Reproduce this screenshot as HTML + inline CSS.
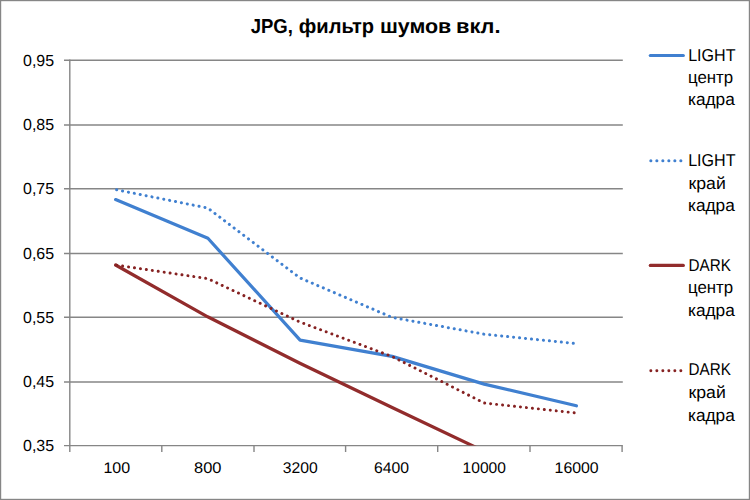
<!DOCTYPE html>
<html><head><meta charset="utf-8">
<style>
html,body{margin:0;padding:0;background:#fff;}
body{width:750px;height:500px;overflow:hidden;position:relative;}
svg{position:absolute;left:0;top:0;display:block;}
text{font-family:"Liberation Sans",sans-serif;fill:#000;text-rendering:geometricPrecision;}
</style></head><body>
<svg width="750" height="500" viewBox="0 0 750 500">
<rect x="0" y="0" width="750" height="500" fill="#fff"/>
<rect x="0.6" y="0.6" width="748.8" height="498.8" fill="none" stroke="#868686" stroke-width="1.2"/>
<g stroke="#868686" stroke-width="1.4" fill="none">
<line x1="64" y1="60.3" x2="622.8" y2="60.3"/>
<line x1="64" y1="125.0" x2="622.8" y2="125.0"/>
<line x1="64" y1="188.7" x2="622.8" y2="188.7"/>
<line x1="64" y1="253.5" x2="622.8" y2="253.5"/>
<line x1="64" y1="317.3" x2="622.8" y2="317.3"/>
<line x1="64" y1="382.0" x2="622.8" y2="382.0"/>
<line x1="64" y1="445.6" x2="622.8" y2="445.6"/>
<line x1="69.8" y1="59.6" x2="69.8" y2="452"/>
<line x1="161.8" y1="445.6" x2="161.8" y2="452"/>
<line x1="254.0" y1="445.6" x2="254.0" y2="452"/>
<line x1="345.6" y1="445.6" x2="345.6" y2="452"/>
<line x1="437.7" y1="445.6" x2="437.7" y2="452"/>
<line x1="530.0" y1="445.6" x2="530.0" y2="452"/>
<line x1="622.1" y1="445.6" x2="622.1" y2="452"/>
</g>
<clipPath id="pa"><rect x="69" y="55" width="560" height="390.5"/></clipPath>
<g clip-path="url(#pa)" fill="none" stroke-width="3.2" stroke-linejoin="round">
<polyline stroke="#4080d0" stroke-linecap="round" points="115.6,199.6 207.9,238.3 300.1,340.1 392.1,356.4 484.2,384.1 576.4,405.8"/>
<polyline stroke="#4080d0" stroke-linecap="round" stroke-width="3" stroke-dasharray="0.1 5.9" stroke-dashoffset="-1.05" points="115.6,189.6 207.7,208 299.9,277.9 392.1,317.4 484.2,334.2 576.4,343.6"/>
<polyline stroke="#922c2c" stroke-linecap="round" points="115.6,265 207.7,316.8 299.9,363.2 392.1,407.5 484.2,451.3"/>
<polyline stroke="#862222" stroke-linecap="round" stroke-width="2.9" stroke-dasharray="0.1 5.9" stroke-dashoffset="-1.05" points="115.6,265 207.7,278.6 299.9,322 392.1,356.5 484.2,403 576.4,413"/>
</g>
<g fill="none" stroke-width="3.2" stroke-linecap="round">
<line x1="650.3" y1="55.5" x2="683.3" y2="55.5" stroke="#4080d0"/>
<line x1="650" y1="160.8" x2="683.5" y2="160.8" stroke="#4080d0" stroke-width="3" stroke-dasharray="0.1 5.9" stroke-dashoffset="-0.8"/>
<line x1="650.3" y1="265.4" x2="683.3" y2="265.4" stroke="#922c2c"/>
<line x1="650" y1="370.8" x2="683.5" y2="370.8" stroke="#862222" stroke-width="2.9" stroke-dasharray="0.1 5.9" stroke-dashoffset="-0.8"/>
</g>
<text x="250.70" y="32.50" font-size="20.2" font-weight="bold" textLength="42.25" lengthAdjust="spacingAndGlyphs" id="t0">JPG,</text>
<text x="298.82" y="32.50" font-size="20.2" font-weight="bold" textLength="75.24" lengthAdjust="spacingAndGlyphs" id="t1">фильтр</text>
<text x="379.93" y="32.50" font-size="20.2" font-weight="bold" textLength="71.39" lengthAdjust="spacingAndGlyphs" id="t2">шумов</text>
<text x="455.98" y="32.50" font-size="20.2" font-weight="bold" textLength="44.52" lengthAdjust="spacingAndGlyphs" id="t3">вкл.</text>
<text x="23.00" y="66.00" font-size="16.0" textLength="31.06" lengthAdjust="spacingAndGlyphs" id="y95">0,95</text>
<text x="23.00" y="130.20" font-size="16.0" textLength="31.06" lengthAdjust="spacingAndGlyphs" id="y85">0,85</text>
<text x="23.00" y="194.30" font-size="16.0" textLength="31.06" lengthAdjust="spacingAndGlyphs" id="y75">0,75</text>
<text x="23.00" y="258.50" font-size="16.0" textLength="31.06" lengthAdjust="spacingAndGlyphs" id="y65">0,65</text>
<text x="23.00" y="322.70" font-size="16.0" textLength="31.06" lengthAdjust="spacingAndGlyphs" id="y55">0,55</text>
<text x="23.00" y="386.80" font-size="16.0" textLength="31.06" lengthAdjust="spacingAndGlyphs" id="y45">0,45</text>
<text x="23.00" y="451.00" font-size="16.0" textLength="31.06" lengthAdjust="spacingAndGlyphs" id="y35">0,35</text>
<text x="103.40" y="472.80" font-size="15.45" textLength="26.70" lengthAdjust="spacingAndGlyphs" id="x100">100</text>
<text x="194.00" y="472.80" font-size="15.45" textLength="27.40" lengthAdjust="spacingAndGlyphs" id="x800">800</text>
<text x="282.75" y="472.80" font-size="15.45" textLength="34.92" lengthAdjust="spacingAndGlyphs" id="x3200">3200</text>
<text x="374.00" y="472.80" font-size="15.45" textLength="34.99" lengthAdjust="spacingAndGlyphs" id="x6400">6400</text>
<text x="462.60" y="472.80" font-size="15.45" textLength="43.28" lengthAdjust="spacingAndGlyphs" id="x10000">10000</text>
<text x="554.60" y="472.80" font-size="15.45" textLength="44.10" lengthAdjust="spacingAndGlyphs" id="x16000">16000</text>
<text x="688.13" y="60.60" font-size="17.2" textLength="47.36" lengthAdjust="spacingAndGlyphs" id="leg00">LIGHT</text>
<text x="688.00" y="83.40" font-size="17.2" textLength="45.14" lengthAdjust="spacingAndGlyphs" id="leg01">центр</text>
<text x="688.00" y="105.30" font-size="17.2" textLength="46.80" lengthAdjust="spacingAndGlyphs" id="leg02">кадра</text>
<text x="688.13" y="166.40" font-size="17.2" textLength="47.36" lengthAdjust="spacingAndGlyphs" id="leg10">LIGHT</text>
<text x="688.54" y="189.00" font-size="17.2" textLength="37.24" lengthAdjust="spacingAndGlyphs" id="leg11">край</text>
<text x="688.00" y="211.10" font-size="17.2" textLength="46.80" lengthAdjust="spacingAndGlyphs" id="leg12">кадра</text>
<text x="688.53" y="270.60" font-size="17.2" textLength="42.36" lengthAdjust="spacingAndGlyphs" id="leg20">DARK</text>
<text x="688.00" y="293.40" font-size="17.2" textLength="45.14" lengthAdjust="spacingAndGlyphs" id="leg21">центр</text>
<text x="688.00" y="315.50" font-size="17.2" textLength="46.80" lengthAdjust="spacingAndGlyphs" id="leg22">кадра</text>
<text x="688.53" y="375.30" font-size="17.2" textLength="42.36" lengthAdjust="spacingAndGlyphs" id="leg30">DARK</text>
<text x="688.54" y="398.40" font-size="17.2" textLength="37.24" lengthAdjust="spacingAndGlyphs" id="leg31">край</text>
<text x="688.00" y="420.50" font-size="17.2" textLength="46.80" lengthAdjust="spacingAndGlyphs" id="leg32">кадра</text>
</svg>
</body></html>
